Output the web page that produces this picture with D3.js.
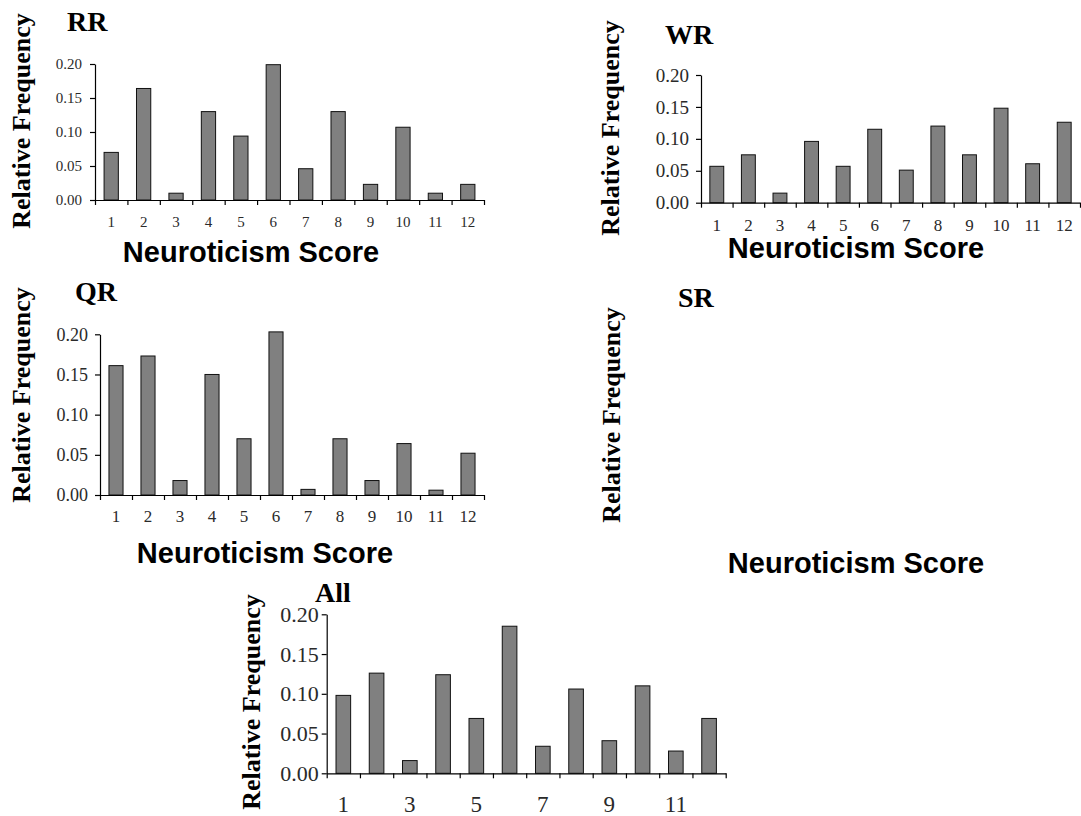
<html>
<head>
<title>Neuroticism Score distributions</title>
<script src="https://d3js.org/d3.v7.min.js"></script>
<style>
  body { margin: 0; background: #fff; }
</style>
</head>
<body>
<div id="chart"></div>
<script>
var width = 1081;
var height = 816;

// data
var scores = [1, 2, 3, 4, 5, 6, 7, 8, 9, 10, 11, 12];
var rrValues = [0.070, 0.164, 0.010, 0.130, 0.094, 0.199, 0.046, 0.130, 0.023, 0.107, 0.010, 0.023];
var wrValues = [0.057, 0.075, 0.015, 0.096, 0.057, 0.115, 0.051, 0.120, 0.075, 0.148, 0.061, 0.126];
var qrValues = [0.161, 0.173, 0.018, 0.150, 0.070, 0.203, 0.007, 0.070, 0.018, 0.064, 0.006, 0.052];
var srValues = [];
var allValues = [0.098, 0.126, 0.016, 0.124, 0.069, 0.185, 0.034, 0.106, 0.041, 0.110, 0.028, 0.069];
var yTicks = [0, 0.05, 0.10, 0.15, 0.20];

var serif = "'Liberation Serif', 'Times New Roman', serif";
var sans = "'Liberation Sans', Arial, sans-serif";

var svg = d3.select('#chart')
    .append('svg')
    .attr('width', width)
    .attr('height', height);

function panel(opt) {
    var g = svg.append('g');

    g.append('text')
        .attr('x', opt.title[0])
        .attr('y', opt.title[1])
        .attr('font-family', serif)
        .attr('font-weight', 'bold')
        .attr('font-size', 28)
        .text(opt.name);

    g.append('text')
        .attr('transform', `translate(${opt.ylab[0]},${opt.ylab[1]}) rotate(-90)`)
        .attr('text-anchor', 'middle')
        .attr('font-family', serif)
        .attr('font-weight', 'bold')
        .attr('font-size', 26)
        .text('Relative Frequency');

    // the "All" panel's x title falls below the picture
    if (opt.xlab) {
        g.append('text')
            .attr('x', opt.xlab[0])
            .attr('y', opt.xlab[1])
            .attr('text-anchor', 'middle')
            .attr('font-family', sans)
            .attr('font-weight', 'bold')
            .attr('font-size', 29)
            .text('Neuroticism Score');
    }

    if (!opt.values.length) return;

    var x = d3.scaleBand()
        .domain(scores)
        .range([opt.left, opt.right])
        .paddingInner(0.56)
        .paddingOuter(0.28);

    var xb = d3.scaleLinear()
        .domain([0, scores.length])
        .range([opt.left, opt.right]);

    var y = d3.scaleLinear()
        .domain([0, 0.2])
        .range([opt.bottom, opt.top]);

    g.selectAll('.bar')
        .data(opt.values)
        .enter()
        .append('rect')
        .attr('class', 'bar')
        .attr('x', (d, i) => x(scores[i]))
        .attr('y', d => y(d))
        .attr('width', x.bandwidth())
        .attr('height', d => y(0) - y(d))
        .attr('fill', '#808080')
        .attr('stroke', '#111')
        .attr('stroke-width', 1);

    // y axis
    var ya = g.append('g')
        .attr('transform', `translate(${opt.left},0)`)
        .call(d3.axisLeft(y).tickValues(yTicks).tickFormat(d3.format('.2f'))
            .tickSize(5).tickSizeOuter(0).tickPadding(opt.tickPad));
    ya.selectAll('text')
        .attr('font-family', serif)
        .attr('font-size', opt.tickFont)
        .attr('fill', '#2a2a2a');

    // x axis: boundary ticks
    g.append('g')
        .attr('transform', `translate(0,${opt.bottom})`)
        .call(d3.axisBottom(xb).ticks(scores.length).tickFormat('').tickSize(5).tickSizeOuter(0));

    // x axis: labels in the middle of each band
    var xl = g.append('g')
        .attr('transform', `translate(0,${opt.bottom})`)
        .call(d3.axisBottom(x).tickSize(0).tickPadding(opt.labelPad)
            .tickValues(scores.filter((s, i) => i % opt.labelEvery == 0)));
    xl.select('.domain').remove();
    xl.selectAll('text')
        .attr('font-family', serif)
        .attr('font-size', opt.labelFont)
        .attr('fill', '#2a2a2a');

    g.selectAll('.domain, .tick line')
        .attr('stroke', '#000')
        .attr('stroke-width', 1.2);
}

panel({name: 'RR', values: rrValues, left: 95, right: 484, top: 64, bottom: 200,
    title: [67, 31], ylab: [30, 121], xlab: [251, 262],
    tickFont: 15, tickPad: 8, labelFont: 15, labelPad: 16, labelEvery: 1});
panel({name: 'WR', values: wrValues, left: 701, right: 1080, top: 75, bottom: 202.7,
    title: [665, 44], ylab: [619, 128], xlab: [856, 258],
    tickFont: 19, tickPad: 7, labelFont: 17, labelPad: 16, labelEvery: 1});
panel({name: 'QR', values: qrValues, left: 100, right: 484, top: 334.3, bottom: 495,
    title: [75, 301], ylab: [30, 395], xlab: [265, 563],
    tickFont: 18, tickPad: 7, labelFont: 17, labelPad: 15, labelEvery: 1});
panel({name: 'SR', values: srValues, title: [678, 307], ylab: [620, 415], xlab: [856, 573]});
panel({name: 'All', values: allValues, left: 326.7, right: 725.7, top: 614.3, bottom: 773.3,
    title: [315, 602], ylab: [260, 702], xlab: null,
    tickFont: 22, tickPad: 3, labelFont: 23, labelPad: 22, labelEvery: 2});
</script>
</body>
</html>
